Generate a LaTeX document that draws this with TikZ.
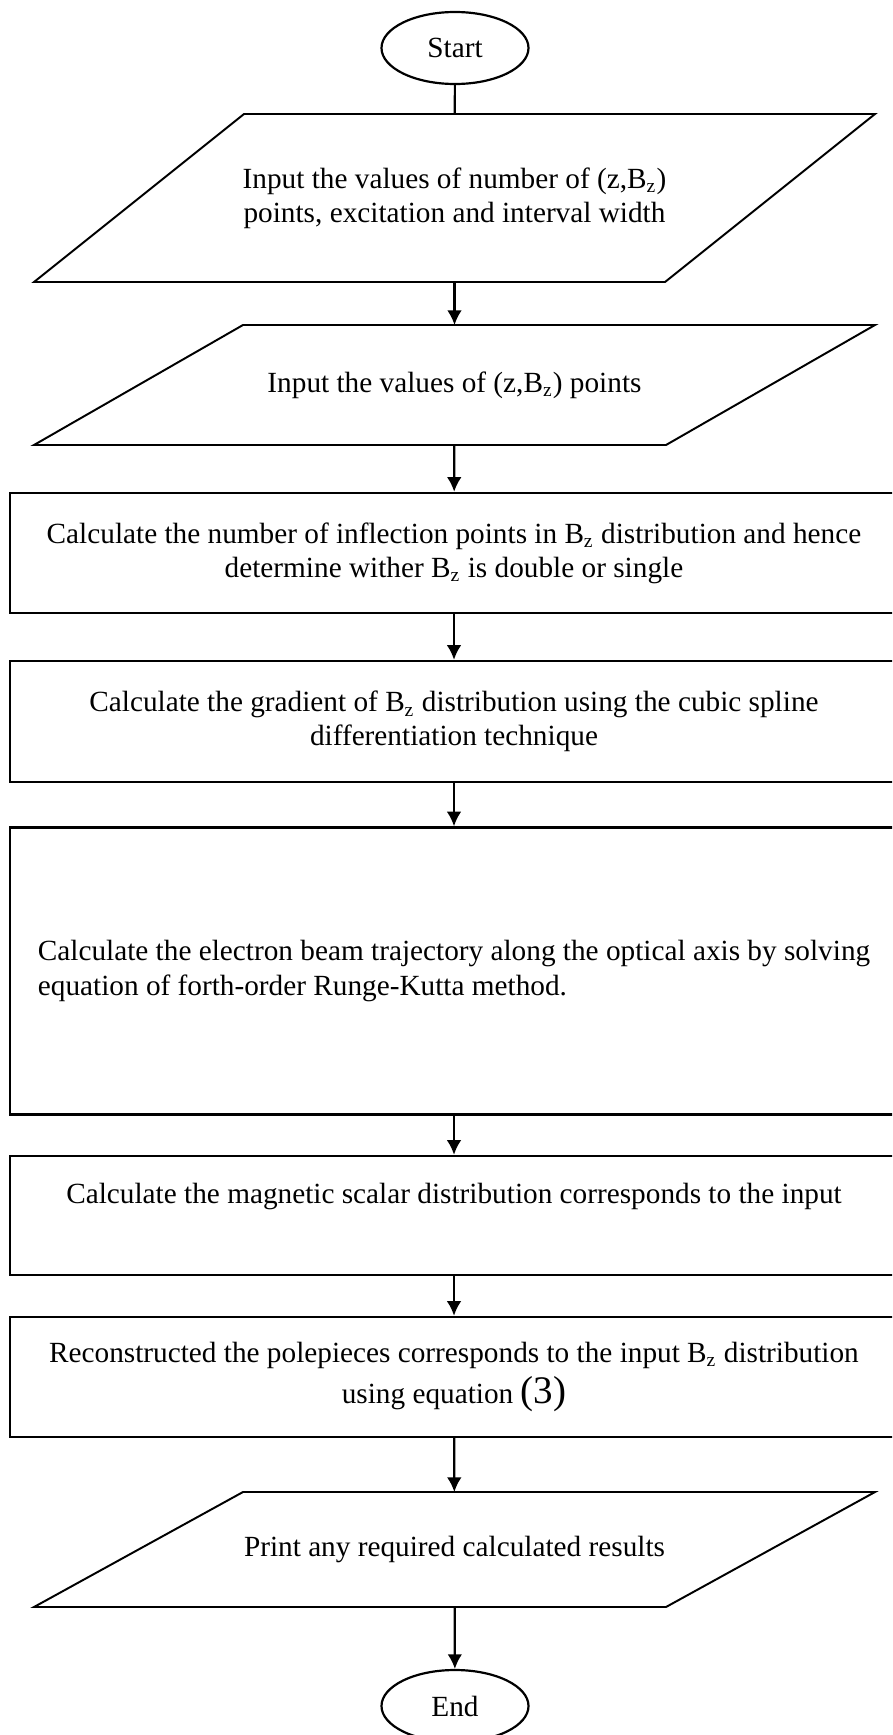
\documentclass[tikz,border=0pt]{standalone}
\usepackage{fontspec}
\setmainfont{Liberation Serif}
\usetikzlibrary{shapes,arrows.meta,positioning,shapes.geometric}
\newcommand{\px}{0.41pt}
\newcommand{\Bz}{B\textsubscript{z}}

\begin{document}
\begin{tikzpicture}[
    x=\px, y=-\px,
    font=\fontsize{12}{14}\selectfont,
    term/.style={ellipse, draw=black, line width=0.9pt, minimum width=147*\px, minimum height=72*\px, inner sep=0pt},
    io/.style={rectangle, minimum width=841*\px, outer sep=0pt, align=center},
    slant/.style={draw=black, line width=0.8pt, line join=miter},
    box/.style={rectangle, draw=black, line width=1pt, minimum width=888*\px, align=center},
    arrow/.style={-{Latex[length=6pt,width=6pt]}, line width=0.9pt}
]
\clip (0,0) rectangle (892,1735);

% Start / input
\node[term] (start) at (455,48) {Start};
\node[io, minimum height=168*\px] (input1) at (454.5,198)
    {Input the values of number of (z,\Bz)\\ points, excitation and interval width};
\node[io, minimum height=120*\px] (input2) at (454.5,385)
    {Input the values of (z,\Bz) points};

% Calculation steps
\node[box, minimum height=120*\px] (inflect) at (454,553)
    {Calculate the number of inflection points in \Bz{} distribution and hence\\ determine wither \Bz{} is double or single};
\node[box, minimum height=121*\px] (gradient) at (454,721.5)
    {Calculate the gradient of \Bz{} distribution using the cubic spline\\ differentiation technique};
\node[box, minimum height=287*\px, align=left] (traject) at (454,971)
    {Calculate the electron beam trajectory along the optical axis by solving\\ equation of forth-order Runge-Kutta method.};
\node[box, minimum height=119*\px] (scalar) at (454,1215.5)
    {Calculate the magnetic scalar distribution corresponds to the input\\ \strut};
\node[box, minimum height=120*\px, font=\fontsize{12}{17}\selectfont] (polep) at (454,1377)
    {Reconstructed the polepieces corresponds to the input \Bz{} distribution\\ using equation {\fontsize{16}{17}\selectfont(3)}};

% Output / end
\node[io, minimum height=115*\px] (print) at (454.5,1549.5)
    {Print any required calculated results};
\node[term] (stop) at (455,1706) {End};

% Parallelogram outlines
\foreach \n/\off in {input1/210, input2/209, print/209}
    \draw[slant] ([xshift=\off*\px]\n.north west) -- (\n.north east)
        -- ([xshift=-\off*\px]\n.south east) -- (\n.south west) -- cycle;

% Connections
\draw[line width=0.9pt] (start) -- (input1);
\draw[arrow] (input1) -- (input2);
\draw[arrow] (input2) -- (inflect);
\draw[arrow] (inflect) -- (gradient);
\draw[arrow] (gradient) -- (traject);
\draw[arrow] (traject) -- (scalar);
\draw[arrow] (scalar) -- (polep);
\draw[arrow] (polep) -- (print);
\draw[arrow] (print) -- (stop);

\end{tikzpicture}
\end{document}
